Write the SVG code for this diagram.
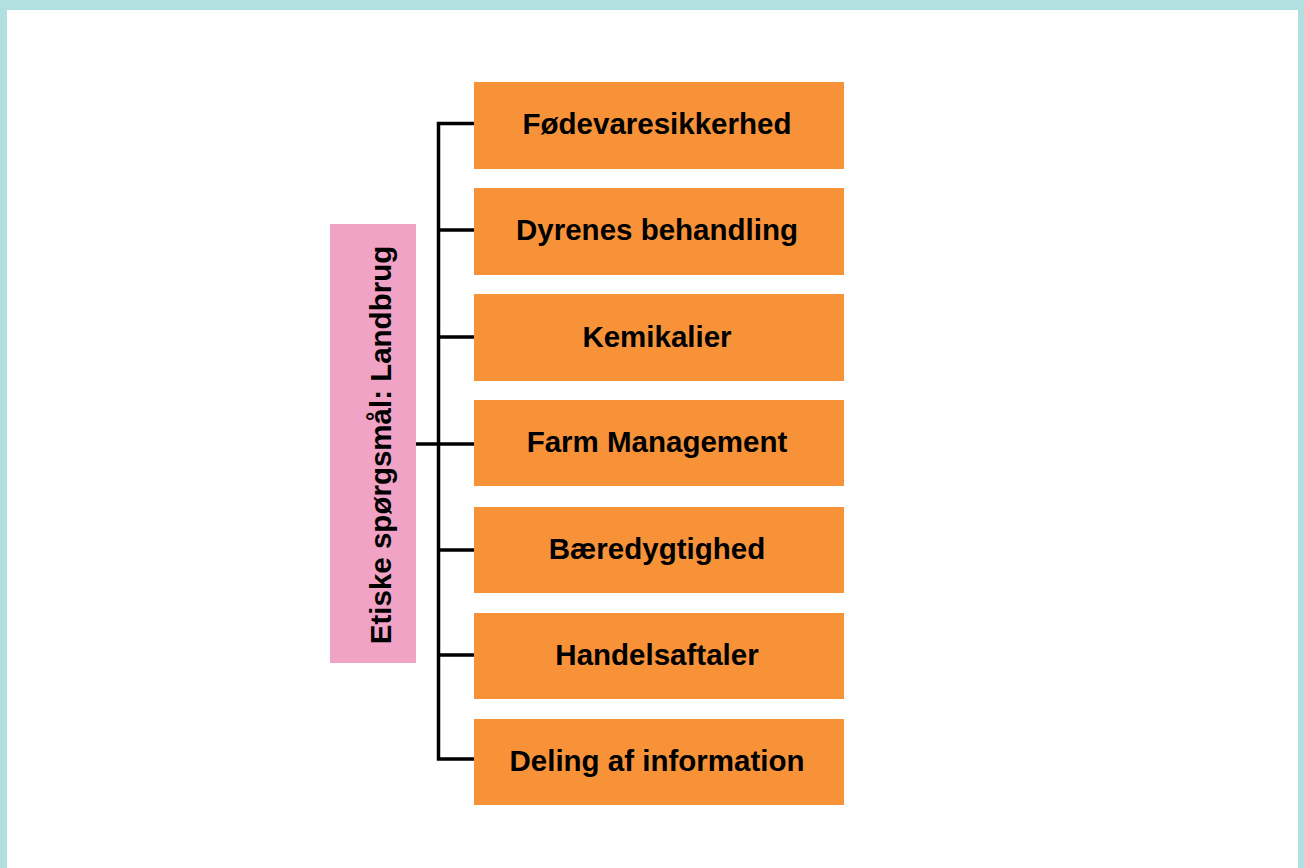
<svg xmlns="http://www.w3.org/2000/svg" width="1304" height="868" viewBox="0 0 1304 868">
<style>
.box{fill:#F79239}
.root{fill:#F0A3C4}
.t{font-family:"Liberation Sans",Arial,sans-serif;font-weight:bold;font-size:29.5px;fill:#000;text-anchor:middle}
.ln{stroke:#000;stroke-width:3.5;fill:none}
</style>
<rect x="0" y="0" width="1304" height="868" fill="#B2DFDF"/>
<rect x="7" y="10" width="1291" height="858" fill="#FFFFFF"/>
<g id="connectors">
<path class="ln" d="M474 123.5 H438.5 V759 H474"/>
<path class="ln" d="M438.5 230 H474 M438.5 337 H474 M438.5 550 H474 M438.5 655 H474"/>
<path class="ln" d="M416 444 H474"/>
</g>
<g id="root">
<rect class="root" x="330" y="224" width="86" height="439"/>
<text class="t" transform="translate(391 445) rotate(-90)" x="0" y="0">Etiske spørgsmål: Landbrug</text>
</g>
<g id="n1"><rect class="box" x="474" y="82" width="370" height="87"/><text class="t" x="657" y="134">Fødevaresikkerhed</text></g>
<g id="n2"><rect class="box" x="474" y="188" width="370" height="87"/><text class="t" x="657" y="240">Dyrenes behandling</text></g>
<g id="n3"><rect class="box" x="474" y="294" width="370" height="87"/><text class="t" x="657" y="347">Kemikalier</text></g>
<g id="n4"><rect class="box" x="474" y="400" width="370" height="86"/><text class="t" x="657" y="452">Farm Management</text></g>
<g id="n5"><rect class="box" x="474" y="507" width="370" height="86"/><text class="t" x="657" y="559">Bæredygtighed</text></g>
<g id="n6"><rect class="box" x="474" y="613" width="370" height="86"/><text class="t" x="657" y="665">Handelsaftaler</text></g>
<g id="n7"><rect class="box" x="474" y="719" width="370" height="86"/><text class="t" x="657" y="771">Deling af information</text></g>
</svg>
